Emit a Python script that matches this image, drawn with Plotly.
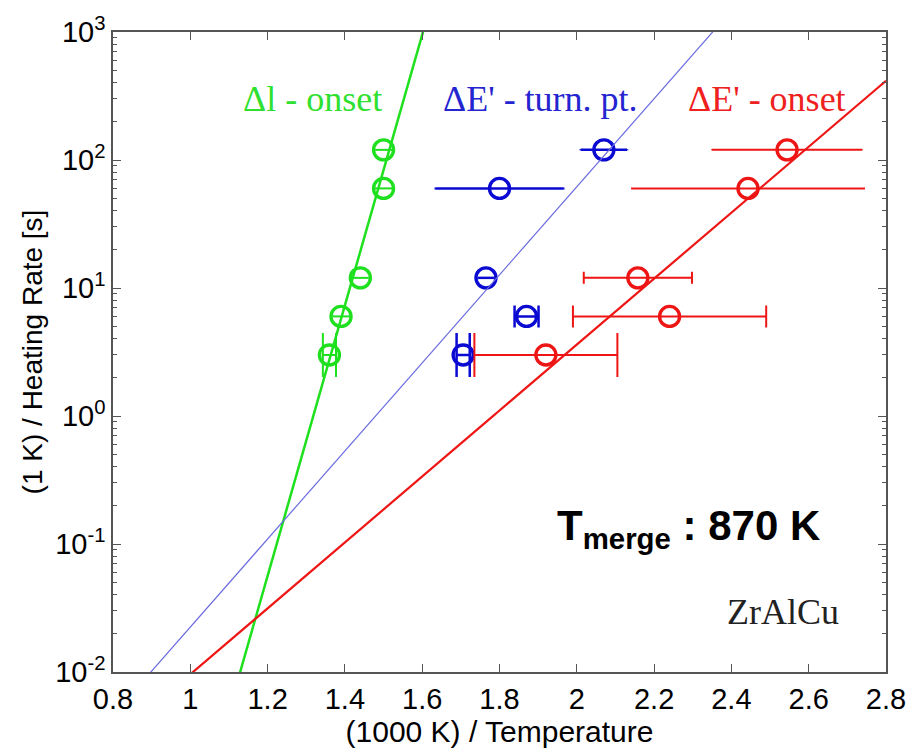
import numpy as np
import plotly.graph_objects as go

# inverse heating rate, (1 K)/rate in seconds
inv_rate = [120, 60, 12, 6, 3]

# 1000/T positions and half-widths of the x error bars
dl_onset_x = [1.50, 1.50, 1.44, 1.39, 1.36]
dl_onset_err = [0.022, 0.022, 0.022, 0.022, 0.017]

de_turn_x = [2.07, 1.80, 1.765, 1.87, 1.706]
de_turn_err = [0.06, 0.165, 0.022, 0.031, 0.017]

de_onset_x = [2.544, 2.443, 2.158, 2.24, 1.92]
de_onset_err = [0.194, 0.30, 0.14, 0.25, 0.185]

# cap half-height for each rate (px)
cap_px = [0.5, 1, 6, 11, 22]

# Arrhenius fits: log10(y) = slope * (x - x_low) - 2
fit_x_low = [1.129, 0.898, 1.007]
fit_slope = [10.57, 3.44, 2.576]

series_names = ["Δl - onset", "ΔE' - turn. pt.", "ΔE' - onset"]
colors = ["#1ee01e", "#0a0ad2", "#ee1515"]
label_colors = ["#30e030", "#2424d0", "#ee2020"]
fit_colors = ["#1ee01e", "#6a6ae0", "#ee1515"]
fit_widths = [2.5, 1.2, 2.2]
err_widths = [2, 2.5, 2]

x_sets = [dl_onset_x, de_turn_x, de_onset_x]
e_sets = [dl_onset_err, de_turn_err, de_onset_err]

fig = go.Figure()

for k in range(3):
    for i in range(len(inv_rate)):
        err = e_sets[k][i]
        # bars that stay inside the circle are drawn without caps, except the slowest rate
        cap = cap_px[i] if (err > 0.026 or i == len(inv_rate) - 1) else 0
        fig.add_trace(go.Scatter(
            x=[x_sets[k][i]], y=[inv_rate[i]], mode="markers",
            marker=dict(symbol="circle-open", size=20, color=colors[k],
                        line=dict(width=3.4, color=colors[k])),
            error_x=dict(type="data", array=[err], color=colors[k],
                         thickness=err_widths[k], width=cap),
            showlegend=False, hoverinfo="skip"))

xs = np.linspace(0.8, 2.8, 400)
for k in range(3):
    ys = 10 ** (fit_slope[k] * (xs - fit_x_low[k]) - 2)
    fig.add_trace(go.Scatter(x=xs, y=ys, mode="lines",
                             line=dict(color=fit_colors[k], width=fit_widths[k]),
                             showlegend=False, hoverinfo="skip"))

label_pos = [(1.317, 2.478), (1.905, 2.478), (2.492, 2.478)]
for k in range(3):
    fig.add_annotation(x=label_pos[k][0], y=label_pos[k][1], text=series_names[k],
                       showarrow=False, xanchor="center", yanchor="middle",
                       font=dict(family="Liberation Serif", size=36, color=label_colors[k]))

fig.add_annotation(x=1.944, y=-0.875, text="<b>T<sub>merge</sub> : 870 K</b>",
                   showarrow=False, xanchor="left", yanchor="middle",
                   font=dict(family="Liberation Sans", size=42, color="black"))
fig.add_annotation(x=2.684, y=-1.533, text="ZrAlCu", showarrow=False,
                   xanchor="right", yanchor="middle",
                   font=dict(family="Liberation Serif", size=36, color="#222222"))

axis_font = dict(family="Liberation Sans", size=29, color="black")
fig.update_xaxes(range=[0.8, 2.8], tickvals=[0.8, 1, 1.2, 1.4, 1.6, 1.8, 2, 2.2, 2.4, 2.6, 2.8],
                 ticktext=["0.8", "1", "1.2", "1.4", "1.6", "1.8", "2", "2.2", "2.4", "2.6", "2.8"],
                 ticks="inside", ticklen=8, tickcolor="#555", mirror="ticks",
                 showline=True, linecolor="#555", linewidth=1.5, showgrid=False, zeroline=False,
                 tickfont=axis_font,
                 title=dict(text="(1000 K) / Temperature",
                            font=dict(family="Liberation Sans", size=30, color="black"), standoff=0))
fig.update_yaxes(type="log", range=[-2, 3], tickvals=[0.01, 0.1, 1, 10, 100, 1000],
                 ticktext=["10<sup>-2</sup>", "10<sup>-1</sup>", "10<sup>0</sup>",
                           "10<sup>1</sup>", "10<sup>2</sup>", "10<sup>3</sup>"],
                 ticks="inside", ticklen=8, tickcolor="#555", mirror="ticks",
                 minor=dict(ticks="inside", ticklen=4, tickcolor="#555", dtick="D1", showgrid=False),
                 showline=True, linecolor="#555", linewidth=1.5, showgrid=False, zeroline=False,
                 tickfont=axis_font,
                 title=dict(text="(1 K) / Heating Rate [s]",
                            font=dict(family="Liberation Sans", size=28, color="black"), standoff=4))

fig.update_layout(width=920, height=748, margin=dict(l=113, r=34, t=30, b=76),
                  paper_bgcolor="white", plot_bgcolor="white")

fig.write_html("out.html")
